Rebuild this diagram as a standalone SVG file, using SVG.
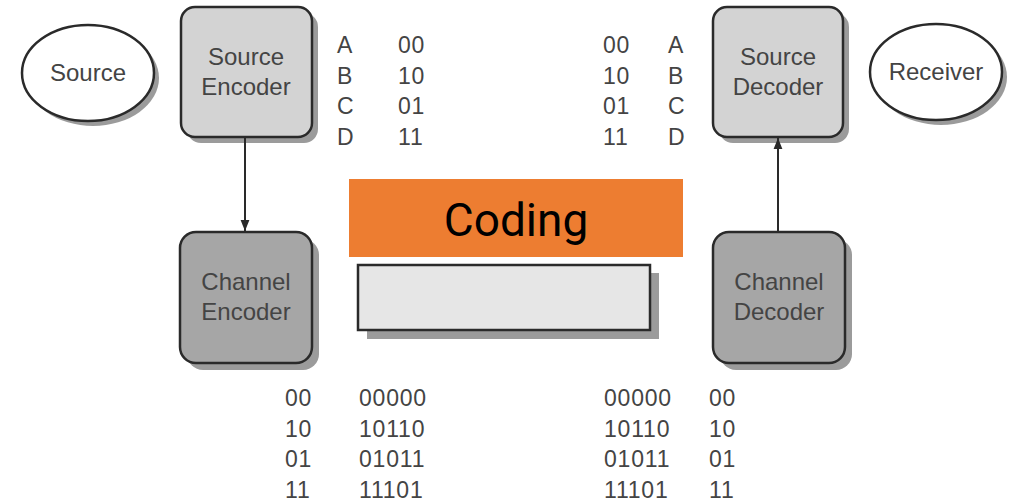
<svg xmlns="http://www.w3.org/2000/svg" width="1012" height="501" viewBox="0 0 1012 501">
<style>
.lbl{font-family:"Liberation Sans",Arial,sans-serif;font-size:24px;fill:#444;text-anchor:middle}
.tbl{font-family:"Liberation Sans",Arial,sans-serif;font-size:23px;fill:#444;letter-spacing:0.8px}
.shadow{fill:#8a8a8a;opacity:0.85}
.box{stroke:#2a2a2a;stroke-width:2.5}
.light{fill:#d3d3d3}
.dark{fill:#a6a6a6}
.conn{stroke:#2a2a2a;stroke-width:2;fill:none}
</style>
<defs>
<marker id="arr" viewBox="0 0 10 10" refX="10" refY="5" markerWidth="11" markerHeight="11" markerUnits="userSpaceOnUse" orient="auto">
<path d="M0,1 L10,5 L0,9 Z" fill="#2a2a2a"/>
</marker>
</defs>
<rect width="1012" height="501" fill="#fff"/>

<g id="source">
<ellipse cx="93" cy="78" rx="66" ry="48" class="shadow"/>
<ellipse cx="88" cy="73" rx="66" ry="48" fill="#fff" class="box"/>
<text x="88" y="81" class="lbl">Source</text>
</g>

<g id="source-encoder">
<rect x="187" y="13" width="131" height="130" rx="14" class="shadow"/>
<rect x="181" y="7" width="131" height="130" rx="14" class="box light"/>
<text x="246" y="65" class="lbl">Source</text>
<text x="246" y="95" class="lbl">Encoder</text>
</g>

<g id="channel-encoder">
<rect x="187" y="239" width="132" height="131" rx="16" class="shadow"/>
<rect x="180" y="232" width="132" height="131" rx="16" class="box dark"/>
<text x="246" y="290" class="lbl">Channel</text>
<text x="246" y="320" class="lbl">Encoder</text>
</g>

<g id="source-decoder">
<rect x="719" y="13" width="130" height="130" rx="14" class="shadow"/>
<rect x="713" y="7" width="130" height="130" rx="14" class="box light"/>
<text x="778" y="65" class="lbl">Source</text>
<text x="778" y="95" class="lbl">Decoder</text>
</g>

<g id="channel-decoder">
<rect x="720" y="239" width="132" height="131" rx="16" class="shadow"/>
<rect x="713" y="232" width="132" height="131" rx="16" class="box dark"/>
<text x="779" y="290" class="lbl">Channel</text>
<text x="779" y="320" class="lbl">Decoder</text>
</g>

<g id="receiver">
<ellipse cx="941" cy="77" rx="66" ry="48" class="shadow"/>
<ellipse cx="936" cy="72" rx="66" ry="48" fill="#fff" class="box"/>
<text x="936" y="80" class="lbl">Receiver</text>
</g>

<g id="channel">
<rect x="367" y="273" width="292" height="66" class="shadow"/>
<rect x="358" y="265" width="292" height="65" fill="#e6e6e6" class="box"/>
</g>

<g id="coding">
<rect x="349" y="179" width="334" height="78" fill="#ed7d31"/>
<text x="516" y="236" font-family="Roboto,'Liberation Sans',sans-serif" font-size="46" fill="#000" text-anchor="middle">Coding</text>
</g>

<g id="connectors">
<line x1="245" y1="137" x2="245" y2="231" class="conn" marker-end="url(#arr)"/>
<line x1="778" y1="232" x2="778" y2="138" class="conn" marker-end="url(#arr)"/>
</g>

<g id="table-top-left" class="tbl">
<text x="337" y="53">A</text><text x="398" y="53">00</text>
<text x="337" y="83.5">B</text><text x="398" y="83.5">10</text>
<text x="337" y="114">C</text><text x="398" y="114">01</text>
<text x="337" y="144.5">D</text><text x="398" y="144.5">11</text>
</g>

<g id="table-top-right" class="tbl">
<text x="603" y="53">00</text><text x="668" y="53">A</text>
<text x="603" y="83.5">10</text><text x="668" y="83.5">B</text>
<text x="603" y="114">01</text><text x="668" y="114">C</text>
<text x="603" y="144.5">11</text><text x="668" y="144.5">D</text>
</g>

<g id="table-bottom-left" class="tbl">
<text x="285" y="406">00</text><text x="359" y="406">00000</text>
<text x="285" y="437">10</text><text x="359" y="437">10110</text>
<text x="285" y="467">01</text><text x="359" y="467">01011</text>
<text x="285" y="498">11</text><text x="359" y="498">11101</text>
</g>

<g id="table-bottom-right" class="tbl">
<text x="604" y="406">00000</text><text x="709" y="406">00</text>
<text x="604" y="437">10110</text><text x="709" y="437">10</text>
<text x="604" y="467">01011</text><text x="709" y="467">01</text>
<text x="604" y="498">11101</text><text x="709" y="498">11</text>
</g>
</svg>
